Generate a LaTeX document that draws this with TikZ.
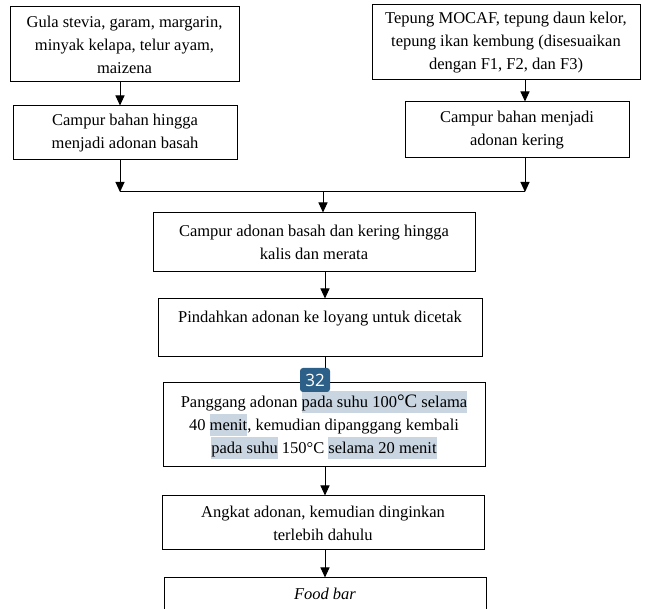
\documentclass[tikz,border=0pt]{standalone}
\usepackage{fontspec}
\setmainfont{Liberation Serif}
\newfontfamily\badgefont{Open Sans}
\usetikzlibrary{arrows.meta,calc}
\definecolor{hlc}{HTML}{C9D6E2}
\definecolor{badgec}{HTML}{2D6089}
\newcommand\hlbox[1]{{\setlength{\fboxsep}{0pt}\colorbox{hlc}{\rule[-5.5pt]{0pt}{22pt}#1}}}
\tikzset{
  box/.style={draw, line width=1pt, align=center, inner sep=0pt,
    font=\fontsize{16.5}{23}\selectfont},
  arr/.style={line width=1pt, -{Triangle[length=10pt,width=9pt]}},
  ln/.style={line width=1pt},
}
\begin{document}
\begin{tikzpicture}[x=1pt,y=-1pt]
\useasboundingbox (0,0) rectangle (646,609);
\clip (0,0) rectangle (646,609);
\node[box, minimum width=229, minimum height=75] (b1) at (124.5,44.5)
  {Gula stevia, garam, margarin,\\minyak kelapa, telur ayam,\\maizena};
\node[box, minimum width=224, minimum height=54] (b2) at (125,133)
  {Campur bahan hingga\\menjadi adonan basah};
\node[box, minimum width=268, minimum height=75] (b3) at (506,42.5)
  {Tepung MOCAF, tepung daun kelor,\\tepung ikan kembung (disesuaikan\\dengan F1, F2, dan F3)};
\node[box, minimum width=224, minimum height=56] (b4) at (517,130)
  {Campur bahan menjadi\\adonan kering};
\node[box, minimum width=322, minimum height=59] (b5) at (314,242.5)
  {Campur adonan basah dan kering hingga\\kalis dan merata};
\node[box, minimum width=324, minimum height=58] (b6) at (320,328)
  {Pindahkan adonan ke loyang untuk dicetak\\\mbox{}};
\node[box, minimum width=322, minimum height=84] (b7) at (324,425)
  {Panggang adonan \hlbox{pada suhu 100{\fontsize{19}{23}\selectfont °C} selama}\\
   40 \hlbox{menit}, kemudian dipanggang kembali\\
   \hlbox{pada suhu} 150°C \hlbox{selama 20 menit}};
\node[box, minimum width=322, minimum height=54] (b8) at (323,523)
  {Angkat adonan, kemudian dinginkan\\terlebih dahulu};
\node[box, minimum width=322, minimum height=54] (b9) at (325,605)
  {\textit{Food bar}\\\mbox{}};
\coordinate (lx) at (120,0);
\coordinate (rx) at (525,0);
\coordinate (cx) at (325,0);
\coordinate (jl) at (120,192);
\coordinate (jr) at (525,192);
\coordinate (jc) at (323,192);
\draw[arr] (b1.south -| lx) -- (b2.north -| lx);
\draw[arr] (b3.south -| rx) -- (b4.north -| rx);
\draw[arr] (b2.south -| lx) -- (jl);
\draw[arr] (b4.south -| rx) -- (jr);
\draw[ln] (jl) -- (jr);
\draw[arr] (jc) -- (b5.north -| jc);
\draw[arr] (b5.south -| cx) -- (b6.north -| cx);
\draw[arr] (b6.south -| cx) -- (b7.north -| cx);
\draw[arr] (b7.south -| cx) -- (b8.north -| cx);
\draw[arr] (b8.south -| cx) -- (b9.north -| cx);
\node[fill=badgec, rounded corners=3pt, minimum width=30, minimum height=24, inner sep=0pt,
  text=white, font=\badgefont\fontsize{17}{17}\selectfont] (badge) at (315,380) {32};
\end{tikzpicture}
\end{document}
